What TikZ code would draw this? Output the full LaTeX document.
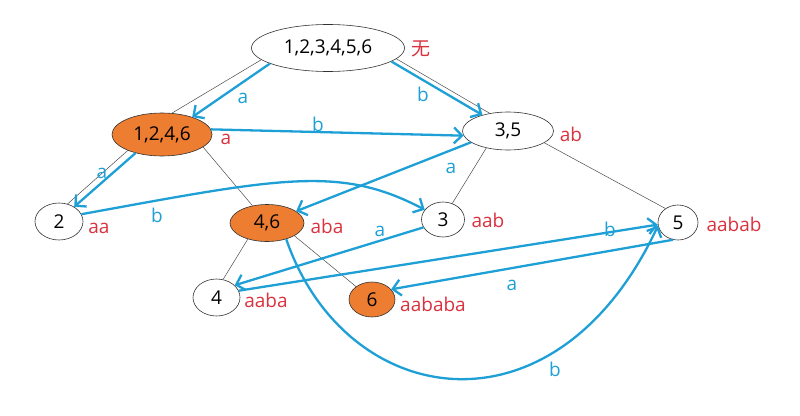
\documentclass[tikz,border=0pt]{standalone}
\usepackage{fontspec}
\setmainfont{Open Sans}
\newfontfamily\cjk{Noto Sans CJK SC}
\usetikzlibrary{shapes.geometric,arrows.meta}
\definecolor{eblue}{RGB}{30,160,215}
\definecolor{lred}{RGB}{218,50,62}
\definecolor{sorange}{RGB}{237,125,49}
\begin{document}
\begin{tikzpicture}[x=1pt,y=-1pt,
  st/.style={ellipse,draw=black!80,line width=0.6pt,inner sep=0pt,font=\fontsize{19}{21}\selectfont},
  acc/.style={st,fill=sorange},
  tree/.style={draw=black!70,line width=0.5pt},
  tr/.style={draw=eblue,line width=2.3pt,-{Straight Barb[length=8pt,width=16pt]}},
  elab/.style={text=eblue,font=\fontsize{19}{21}\selectfont,inner sep=0pt},
  slab/.style={text=lred,font=\fontsize{19}{21}\selectfont,inner sep=0pt}]
\useasboundingbox[fill=white] (0,0) rectangle (800,415);

% states
\node[st,minimum width=153pt,minimum height=47pt] (r) at (328,48) {1,2,3,4,5,6};
\node[acc,minimum width=100pt,minimum height=43pt] (s1246) at (162,134.5) {1,2,4,6};
\node[st,minimum width=91pt,minimum height=38pt] (s35) at (508,131) {3,5};
\node[st,minimum width=48pt,minimum height=37pt] (s2) at (59,221.5) {2};
\node[acc,minimum width=74pt,minimum height=37pt] (s46) at (267,223) {4,6};
\node[st,minimum width=43pt,minimum height=35pt] (s3) at (443,219.5) {3};
\node[st,minimum width=40pt,minimum height=35pt] (s5) at (678,222.5) {5};
\node[st,minimum width=47pt,minimum height=37pt] (s4) at (216.5,297.5) {4};
\node[acc,minimum width=46pt,minimum height=35pt] (s6) at (372,299.5) {6};

% state labels
\node[slab] (lr) at (421,49) {\cjk 无};
\node[slab] (l1246) at (226,139) {a};
\node[slab] (l35) at (571,134) {ab};
\node[slab] (l2) at (99,228) {aa};
\node[slab] (l46) at (327,226) {aba};
\node[slab] (l3) at (488,220) {aab};
\node[slab] (l5) at (734,224) {aabab};
\node[slab] (l4) at (266,300) {aaba};
\node[slab] (l6) at (433,304) {aababa};

% tree edges
\draw[tree] (r.190.8) -- (s1246.65);
\draw[tree] (r.-9.5) -- (s35.136.5);
\draw[tree] (s1246.205) -- (s2.64);
\draw[tree] (s1246.-17.4) -- (s46.130);
\draw[tree] (s35.218) -- (s3.60);
\draw[tree] (s35.-18) -- (s5.132);
\draw[tree] (s46.220) -- (s4.70.6);
\draw[tree] (s46.-25) -- (s6.141.5);

% transitions
\draw[tr] (r.195.6) -- (s1246.30.3);
\draw[tr] (r.-12.3) -- (s35.148);
\draw[tr] (s1246.6) -- (s35.186.6);
\draw[tr] (s1246.215) -- (s2.44);
\draw[tr] (s2.18) .. controls (280,178) and (340,165) .. (s3.152);
\draw[tr] (s35.197.5) -- (s46.22.7);
\draw[tr] (s3.202) -- (s4.34);
\draw[tr] (s4.17.7) -- (s5.186.8);
\draw[tr] (s5.254) -- (s6.28.7);
\draw[tr] (s46.-40) .. controls (345,410) and (555,445) .. (s5.189.5);

% transition labels
\node[elab] (ea1) at (243,98) {a};
\node[elab] (eb1) at (423,94) {b};
\node[elab] (eb2) at (318,124) {b};
\node[elab] (ea2) at (102,173) {a};
\node[elab] (eb3) at (157,215) {b};
\node[elab] (ea3) at (451,168) {a};
\node[elab] (ea4) at (380,231) {a};
\node[elab] (eb4) at (610,229) {b};
\node[elab] (ea5) at (512,285) {a};
\node[elab] (eb5) at (555,369) {b};
\end{tikzpicture}
\end{document}
